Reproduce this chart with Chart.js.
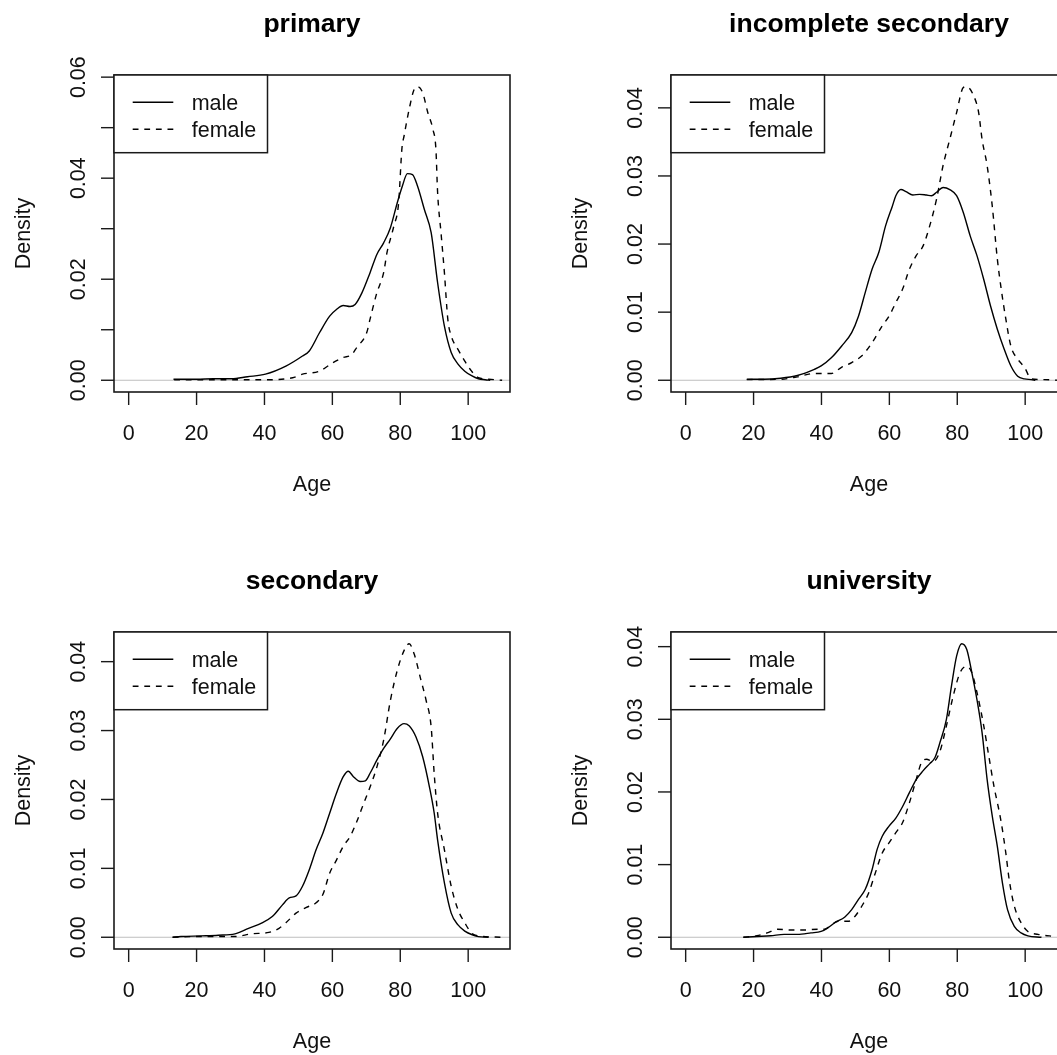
<!DOCTYPE html>
<html><head><meta charset="utf-8">
<script src="https://cdn.jsdelivr.net/npm/chart.js@4.4.1/dist/chart.umd.min.js"></script>
<style>
html,body{margin:0;padding:0;background:#fff;overflow:hidden;width:1057px;height:1055px;position:relative}
canvas{position:absolute}
</style></head><body>
<script>
// ---------- data ----------
const panelTitles = ["primary", "incomplete secondary", "secondary", "university"];
const seriesNames = ["male", "female"];
const xTicks = [0, 20, 40, 60, 80, 100];
const xTickLabels = ["0", "20", "40", "60", "80", "100"];
const xLim = [0, 108];

const primaryYTicks = [0, 0.01, 0.02, 0.03, 0.04, 0.05, 0.06];
const primaryYLabels = ["0.00", "", "0.02", "", "0.04", "", "0.06"];
const otherYTicks = [0, 0.01, 0.02, 0.03, 0.04];
const otherYLabels = ["0.00", "0.01", "0.02", "0.03", "0.04"];

const primaryMaleAge = [13.2,20,25,30.3,35,40.3,46.3,51.2,53.2,56.2,59.2,61.2,63.2,65.2,66.7,68.7,71.1,73.1,75.1,77.1,79.1,80.6,82.1,83.6,85.1,87.1,89.1,91.0,93.0,95.0,97.0,99.0,101,103,105,106.5];
const primaryMaleDensity = [0.0002,0.0002,0.0003,0.0003,0.0007,0.0012,0.0028,0.0048,0.0058,0.0094,0.0127,0.014,0.0148,0.0146,0.015,0.0173,0.0213,0.0249,0.0272,0.0302,0.0351,0.0384,0.0409,0.0407,0.0384,0.0338,0.0292,0.0193,0.0107,0.0055,0.0032,0.0018,0.0009,0.0003,0.0001,0.0];
const primaryFemaleAge = [13.4,20,30,40.3,48.3,51.2,56.2,60.2,63.2,65.7,67.2,70.1,71.1,73.1,75.1,76.1,78.1,79.5,80.5,81.1,82.6,84.1,85.1,86.6,88.1,89.6,90.5,91.0,92.0,93.0,94.0,95.0,97.0,99.0,101,103,106,110];
const primaryFemaleDensity = [0.0001,0.0001,0.0001,0.0001,0.0005,0.0012,0.0018,0.0035,0.0045,0.0051,0.0065,0.0094,0.0121,0.0173,0.0213,0.0253,0.0305,0.035,0.046,0.0483,0.0536,0.0576,0.0581,0.0569,0.053,0.0497,0.0457,0.0371,0.0292,0.0213,0.0121,0.0088,0.0061,0.0038,0.0018,0.0005,0.0002,0.0];

const incompleteMaleAge = [18,23,28,32.9,37.9,39.9,42.9,45.9,48.9,50.9,52.9,54.9,56.9,58.9,60.9,61.9,63.4,64.9,66.9,68.9,70.9,72.4,73.9,75.8,77.8,79.8,81.8,83.8,85.8,87.8,89.8,91.8,93.8,95.8,97.8,99.8,101.8,103];
const incompleteMaleDensity = [0.00015,0.00015,0.0003,0.0007,0.0016,0.0021,0.0033,0.005,0.007,0.0094,0.0129,0.0163,0.0188,0.0227,0.0256,0.0271,0.028,0.0277,0.0272,0.0273,0.0272,0.0271,0.0276,0.0283,0.028,0.0271,0.0246,0.0212,0.0183,0.0148,0.0109,0.0075,0.0046,0.0021,0.0006,0.0002,0.0001,0.0];
const incompleteFemaleAge = [18,28,32.9,37.9,42.9,45.9,48.9,51.9,54.9,57.9,59.9,61.9,63.9,65.9,67.9,69.9,71.9,73.9,75.8,77.8,79.8,81.8,82.8,84.8,86.3,87.3,88.8,90.3,91.8,92.8,94.3,95.8,97.8,99.8,101.8,104.8,110];
const incompleteFemaleDensity = [0.0001,0.00015,0.0005,0.001,0.001,0.0019,0.0026,0.0036,0.0055,0.008,0.0094,0.0114,0.0134,0.0163,0.0183,0.0197,0.0227,0.0266,0.0315,0.0354,0.0393,0.043,0.0431,0.0418,0.0393,0.0354,0.0315,0.0256,0.0178,0.0139,0.009,0.005,0.0031,0.0019,0.0002,0.0001,0.0];

const secondaryMaleAge = [12.9,15.4,21.4,26.4,31.3,35.3,39.3,42.3,45.3,47.3,49.3,51.2,53.2,55.2,57.2,59.2,61.2,63.2,64.7,66.2,68.2,69.7,71.1,73.1,75.1,77.1,79.1,81.1,82.6,84.6,86.6,88.6,90.0,91.0,93.0,95.0,97.0,99.0,101,103,106];
const secondaryMaleDensity = [0,0.0001,0.0002,0.0003,0.0005,0.0013,0.0021,0.003,0.0047,0.0057,0.006,0.0074,0.0098,0.0127,0.0151,0.018,0.0209,0.0233,0.0241,0.0233,0.0226,0.0227,0.0238,0.0257,0.0274,0.0288,0.0303,0.031,0.0307,0.0291,0.0262,0.0218,0.018,0.0141,0.0079,0.0035,0.0018,0.0009,0.0004,0.0001,0];
const secondaryFemaleAge = [13,20,31.3,36.3,41.3,44.3,46.3,49.3,52.2,55.2,57.2,59.2,61.2,63.2,65.2,67.2,69.2,71.1,73.1,75.1,77.1,79.1,81.1,82.6,84.1,86.1,87.6,89.1,90.0,91.0,93.0,95.0,97.0,99.0,101,103,110];
const secondaryFemaleDensity = [0,0.0001,0.0001,0.0005,0.0007,0.0013,0.0021,0.0035,0.0043,0.005,0.0062,0.0093,0.0112,0.0132,0.0146,0.0168,0.0194,0.0218,0.0247,0.0286,0.0344,0.0387,0.0416,0.0426,0.0411,0.0373,0.0344,0.0305,0.0237,0.018,0.0127,0.0074,0.004,0.0021,0.0006,0.0002,0];

const universityMaleAge = [17,21,25,29,32.9,36.9,39.9,41.9,43.9,46.9,48.9,50.9,52.9,54.9,56.4,57.9,59.9,61.9,63.9,65.9,67.9,69.9,71.9,73.4,74.9,76.8,78.3,79.8,81.3,82.8,84.3,85.8,87.3,88.8,90.3,91.8,93.3,94.8,96.8,98.8,100.8,104.8];
const universityMaleDensity = [0,0.0001,0.0002,0.0004,0.0004,0.0006,0.0008,0.0013,0.002,0.0028,0.0038,0.0052,0.0066,0.0093,0.0121,0.0139,0.0153,0.0164,0.018,0.0199,0.0217,0.0229,0.0239,0.0247,0.0268,0.03,0.0346,0.0387,0.0404,0.0396,0.0364,0.0327,0.0282,0.0217,0.0167,0.0125,0.0075,0.0038,0.0015,0.0006,0.0002,0];
const universityFemaleAge = [17,21,24,27,30.9,34.9,38.9,40.9,42.9,44.9,47.9,49.9,51.9,53.9,55.9,57.9,59.9,61.9,63.9,65.9,67.9,69.4,70.9,72.9,74.9,76.8,78.8,80.8,82.8,84.3,85.8,87.8,89.3,90.8,92.8,94.3,95.3,96.8,98.8,100.8,103.8,108.8];
const universityFemaleDensity = [0,0.0002,0.0006,0.0011,0.001,0.001,0.0011,0.0011,0.0017,0.0022,0.0022,0.0029,0.0043,0.0061,0.0089,0.0116,0.013,0.0144,0.0158,0.0185,0.0217,0.024,0.0245,0.0242,0.0256,0.0291,0.0332,0.0364,0.0373,0.0364,0.0337,0.0291,0.0249,0.0208,0.0162,0.0116,0.0079,0.0043,0.002,0.0008,0.0004,0.0001];

// ---------- layout / styling ----------
const FONT = '"Liberation Sans", Arial, Helvetica, sans-serif';
const PANEL = 557;
const PAD = {left:114, top:75, right:47, bottom:165};

function pts(xs, ys){ return xs.map((x,i)=>({x:x, y:ys[i]})); }

const panels = [
  {title: panelTitles[0], male: pts(primaryMaleAge, primaryMaleDensity), female: pts(primaryFemaleAge, primaryFemaleDensity), yTicks: primaryYTicks, yLabels: primaryYLabels, left:0, top:0},
  {title: panelTitles[1], male: pts(incompleteMaleAge, incompleteMaleDensity), female: pts(incompleteFemaleAge, incompleteFemaleDensity), yTicks: otherYTicks, yLabels: otherYLabels, left:PANEL, top:0},
  {title: panelTitles[2], male: pts(secondaryMaleAge, secondaryMaleDensity), female: pts(secondaryFemaleAge, secondaryFemaleDensity), yTicks: otherYTicks, yLabels: otherYLabels, left:0, top:PANEL},
  {title: panelTitles[3], male: pts(universityMaleAge, universityMaleDensity), female: pts(universityFemaleAge, universityFemaleDensity), yTicks: otherYTicks, yLabels: otherYLabels, left:PANEL, top:PANEL}
];

const DASH = [5.8, 5.8];

const rPlot = {
  id: 'rplot',
  beforeDatasetsDraw(chart){
    const {ctx, chartArea:a, scales:{y}} = chart;
    const y0 = y.getPixelForValue(0);
    ctx.save();
    ctx.strokeStyle = '#bebebe'; ctx.lineWidth = 1;
    ctx.beginPath(); ctx.moveTo(a.left, y0); ctx.lineTo(a.right, y0); ctx.stroke();
    ctx.restore();
  },
  afterDatasetsDraw(chart, args, opts){
    const {ctx, chartArea:a, scales:{x, y}} = chart;
    ctx.save();
    // box
    ctx.strokeStyle = '#1a1a1a'; ctx.lineWidth = 1.6; ctx.setLineDash([]);
    ctx.strokeRect(a.left, a.top, a.right - a.left, a.bottom - a.top);
    // x ticks
    ctx.lineWidth = 1.4;
    ctx.fillStyle = '#111';
    ctx.font = '21.5px ' + FONT;
    ctx.textAlign = 'center'; ctx.textBaseline = 'alphabetic';
    xTicks.forEach((v, i) => {
      const px = x.getPixelForValue(v);
      ctx.beginPath(); ctx.moveTo(px, a.bottom); ctx.lineTo(px, a.bottom + 13); ctx.stroke();
      ctx.fillText(xTickLabels[i], px, a.bottom + 48);
    });
    ctx.fillText('Age', (a.left + a.right) / 2, a.bottom + 98.5);
    // y ticks
    opts.yTicks.forEach((v, i) => {
      const py = y.getPixelForValue(v);
      ctx.beginPath(); ctx.moveTo(a.left - 13, py); ctx.lineTo(a.left, py); ctx.stroke();
      if (opts.yLabels[i]) {
        ctx.save();
        ctx.translate(a.left - 29, py); ctx.rotate(-Math.PI / 2);
        ctx.fillText(opts.yLabels[i], 0, 0);
        ctx.restore();
      }
    });
    ctx.save();
    ctx.translate(a.left - 83.6, (a.top + a.bottom) / 2); ctx.rotate(-Math.PI / 2);
    ctx.fillText('Density', 0, 0);
    ctx.restore();
    // title
    ctx.font = 'bold 26.5px ' + FONT;
    ctx.fillStyle = '#000';
    ctx.fillText(opts.title, (a.left + a.right) / 2, a.top - 43.3);
    // legend
    const lw = 153.5, lh = 77.7;
    ctx.fillStyle = '#fff';
    ctx.fillRect(a.left, a.top, lw, lh);
    ctx.strokeStyle = '#1a1a1a'; ctx.lineWidth = 1.5;
    ctx.strokeRect(a.left, a.top, lw, lh);
    ctx.font = '21.5px ' + FONT; ctx.fillStyle = '#111'; ctx.textAlign = 'left';
    seriesNames.forEach((name, i) => {
      const ly = a.top + 27.3 + i * 27;
      ctx.strokeStyle = '#000'; ctx.lineWidth = 1.4;
      ctx.setLineDash(i === 1 ? DASH : []);
      ctx.beginPath(); ctx.moveTo(a.left + 18.7, ly); ctx.lineTo(a.left + 59.3, ly); ctx.stroke();
      ctx.setLineDash([]);
      ctx.fillText(name, a.left + 77.7, ly + 8);
    });
    ctx.restore();
  }
};

panels.forEach((p, idx) => {
  const cv = document.createElement('canvas');
  cv.width = PANEL; cv.height = PANEL;
  cv.style.left = p.left + 'px'; cv.style.top = p.top + 'px';
  cv.style.width = PANEL + 'px'; cv.style.height = PANEL + 'px';
  document.body.appendChild(cv);
  const M = Math.max(...p.male.map(d => d.y), ...p.female.map(d => d.y));
  const xr = xLim[1] - xLim[0];
  new Chart(cv.getContext('2d'), {
    type: 'line',
    data: {
      datasets: [
        {label: seriesNames[0], data: p.male, borderColor: '#000', borderWidth: 1.4, pointRadius: 0, fill: false, cubicInterpolationMode: 'monotone'},
        {label: seriesNames[1], data: p.female, borderColor: '#000', borderWidth: 1.4, borderDash: DASH, pointRadius: 0, fill: false, cubicInterpolationMode: 'monotone'}
      ]
    },
    options: {
      responsive: false, animation: false, devicePixelRatio: 1,
      layout: {padding: PAD},
      plugins: {
        legend: {display: false}, tooltip: {enabled: false}, title: {display: false},
        rplot: {title: p.title, yTicks: p.yTicks, yLabels: p.yLabels}
      },
      scales: {
        x: {type: 'linear', display: false, min: xLim[0] - 0.04 * xr, max: xLim[1] + 0.04 * xr},
        y: {type: 'linear', display: false, min: -0.04 * M, max: 1.04 * M}
      }
    },
    plugins: [rPlot]
  });
});
</script>
</body></html>
